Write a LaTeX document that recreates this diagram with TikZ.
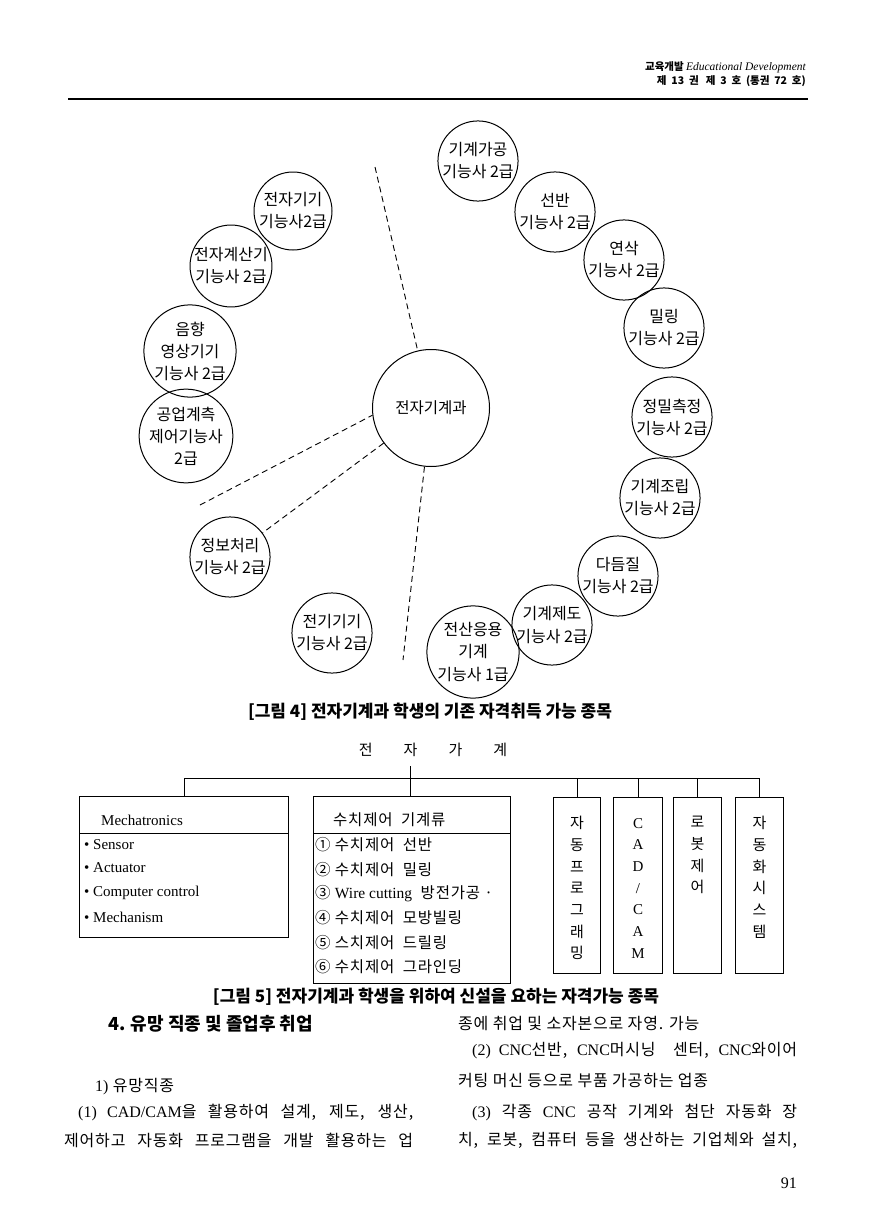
\documentclass[tikz,border=0pt]{standalone}
\usepackage{fontspec}
\setmainfont{Liberation Serif}
\newfontfamily\kr{Noto Sans CJK KR}
\newfontfamily\krs{Noto Sans CJK KR}[LetterSpace=5]
\newfontfamily\lat{Liberation Serif}

\begin{document}
\begin{tikzpicture}[
  x=1pt,y=-1pt,
  font=\kr,
  qual/.style={circle,draw,line width=1pt,minimum size=78pt,inner sep=0pt,align=center,font=\kr\fontsize{16}{22}\selectfont},
  dept/.style={circle,draw,line width=1pt,minimum size=117pt,inner sep=0pt,font=\kr\fontsize{15.5}{18}\selectfont},
  cut/.style={line width=0.9pt,dash pattern=on 6pt off 4pt},
  orgbox/.style={draw,line width=1pt,inner sep=0pt,anchor=north west},
  vtext/.style={anchor=north,align=center,inner sep=0pt,font=\kr\fontsize{15}{21.7}\selectfont},
  item/.style={anchor=west,inner sep=0pt,font=\krs\fontsize{15.5}{17}\selectfont},
  latitem/.style={anchor=west,inner sep=0pt,font=\lat\fontsize{15}{17}\selectfont},
  body/.style={anchor=west,inner sep=0pt,font=\krs\fontsize{16}{18}\selectfont},
  figcap/.style={inner sep=0pt,font=\kr\bfseries\fontsize{17}{19}\selectfont}
]
  \useasboundingbox (0,0) rectangle (881,1231);

  % running head
  \node[anchor=east,inner sep=0pt] (jname) at (806,67)
    {{\kr\bfseries\fontsize{10.5}{12}\selectfont 교육개발} {\lat\itshape\fontsize{11.5}{13}\selectfont Educational Development}};
  \node[anchor=east,inner sep=0pt,font=\kr\bfseries\fontsize{10.5}{12}\selectfont] (issue) at (806,81)
    {제 \ 13 \ 권 \ \ 제 \ 3 \ 호 \ (통권 \ 72 \ 호)};
  \draw[line width=1.8pt] (68,99) -- (808,99);

  % figure 4: department and existing qualifications
  \node[dept] (dept) at (431,408) {전자기계과};
  \node[qual] (q1) at (293,211) {전자기기\\기능사2급};
  \node[qual] (q2) at (231,266) {전자계산기\\기능사 2급};
  \node[qual] (q3) at (190,351) {음향\\영상기기\\기능사 2급};
  \node[qual] (q4) at (186,436) {공업계측\\제어기능사\\2급};
  \node[qual] (q5) at (230,557) {정보처리\\기능사 2급};
  \node[qual] (q6) at (332,633) {전기기기\\기능사 2급};
  \node[qual] (q7) at (478,161) {기계가공\\기능사 2급};
  \node[qual] (q8) at (555,212) {선반\\기능사 2급};
  \node[qual] (q9) at (624,260) {연삭\\기능사 2급};
  \node[qual] (q10) at (664,328) {밀링\\기능사 2급};
  \node[qual] (q11) at (672,417) {정밀측정\\기능사 2급};
  \node[qual] (q12) at (660,498) {기계조립\\기능사 2급};
  \node[qual] (q13) at (618,576) {다듬질\\기능사 2급};
  \node[qual] (q14) at (552,625) {기계제도\\기능사 2급};
  \node[qual] (q15) at (473,652) {전산응용\\기계\\기능사 1급};

  \coordinate (cutA) at (375,167);
  \coordinate (cutB) at (200,505);
  \coordinate (cutD) at (403,660);
  \draw[cut] (cutA) -- (dept);
  \draw[cut] (cutB) -- (dept.187);
  \draw[cut] (dept) -- (q5);
  \draw[cut] (dept) -- (cutD);

  \node[figcap] (fig4) at (430,712) {[그림 4] 전자기계과 학생의 기존 자격취득 가능 종목};

  % figure 5: new qualifications
  \node[inner sep=0pt,font=\kr\fontsize{15}{17}\selectfont] (orgtop) at (433,750)
    {전\hspace{31pt}자\hspace{31pt}가\hspace{31pt}계};
  \node[orgbox,minimum width=209pt,minimum height=141pt] (mecha) at (79,796) {};
  \node[orgbox,minimum width=197pt,minimum height=187pt] (numctl) at (313,796) {};
  \node[orgbox,minimum width=47pt,minimum height=176pt] (autoprog) at (553,797) {};
  \node[orgbox,minimum width=49pt,minimum height=176pt] (cadcam) at (613,797) {};
  \node[orgbox,minimum width=48pt,minimum height=176pt] (robot) at (673,797) {};
  \node[orgbox,minimum width=48pt,minimum height=176pt] (sysauto) at (735,797) {};

  \coordinate (stem) at (410,766);
  \coordinate (bus) at (410,778);
  \draw[line width=1pt] (stem) -- (stem |- numctl.north);
  \draw[line width=1pt] (mecha.north) -- (mecha.north |- bus) -- (sysauto.north |- bus) -- (sysauto.north);
  \foreach \b in {autoprog,cadcam,robot}
    \draw[line width=1pt] (\b.north) -- (\b.north |- bus);

  \draw[line width=1pt] ([yshift=-37pt]mecha.north west) -- ([yshift=-37pt]mecha.north east);
  \draw[line width=1pt] ([yshift=-37pt]numctl.north west) -- ([yshift=-37pt]numctl.north east);

  \node[latitem] (mechahead) at (101,820) {Mechatronics};
  \foreach \t/\y [count=\i] in {Sensor/845,Actuator/868,Computer control/893,Mechanism/917}
    \node[latitem] (mitem\i) at (84,\y) {\textbullet\ \t};

  \node[item] (numhead) at (333,820) {수치제어\ \ 기계류};
  \foreach \t/\y [count=\i] in {① 수치제어\ \ 선반/845,② 수치제어\ \ 밀링/870,③ {\lat Wire cutting}\ \ 방전가공 ·/894,
      ④ 수치제어\ \ 모방빌링/918,⑤ 스치제어\ \ 드릴링/943,⑥ 수치제어\ \ 그라인딩/967}
    \node[item] (nitem\i) at (315,\y) {\t};

  \node[vtext] (autoprogtxt) at ([yshift=-19pt]autoprog.north) {자\\동\\프\\로\\그\\래\\밍};
  \node[vtext,font=\lat\fontsize{15}{21.7}\selectfont] (cadcamtxt) at ([yshift=-21pt]cadcam.north) {C\\A\\D\\/\\C\\A\\M};
  \node[vtext] (robottxt) at ([yshift=-19pt]robot.north) {로\\봇\\제\\어};
  \node[vtext] (sysautotxt) at ([yshift=-19pt]sysauto.north) {자\\동\\화\\시\\스\\템};

  \node[figcap] (fig5) at (436,997) {[그림 5] 전자기계과 학생을 위하여 신설을 요하는 자격가능 종목};

  % body text
  \node[body,font=\kr\bfseries\fontsize{18}{20}\selectfont] (sec4) at (108,1024) {4. 유망 직종 및 졸업후 취업};
  \node[body] (sub1) at (95,1087) {{\lat 1)} 유망직종};
  \node[body] (p1a) at (78,1113) {\makebox[335pt][s]{{\lat (1) CAD/CAM}을 활용하여 설계, 제도, 생산,}};
  \node[body] (p1b) at (64,1140) {\makebox[349pt][s]{제어하고 자동화 프로그램을 개발 활용하는 업}};
  \node[body] (p1c) at (458,1023) {종에 취업 및 소자본으로 자영. 가능};
  \node[body] (p2a) at (472,1051) {\makebox[325pt][s]{{\lat (2) CNC}선반, {\lat CNC}머시닝 \ 센터, {\lat CNC}와이어}};
  \node[body] (p2b) at (458,1081) {커팅 머신 등으로 부품 가공하는 업종};
  \node[body] (p3a) at (472,1113) {\makebox[325pt][s]{{\lat (3)} 각종 {\lat CNC} 공작 기계와 첨단 자동화 장}};
  \node[body] (p3b) at (458,1140) {\makebox[339pt][s]{치, 로봇, 컴퓨터 등을 생산하는 기업체와 설치,}};
  \node[body,anchor=east,font=\lat\fontsize{16}{18}\selectfont] (pageno) at (797,1183) {91};
\end{tikzpicture}
\end{document}
